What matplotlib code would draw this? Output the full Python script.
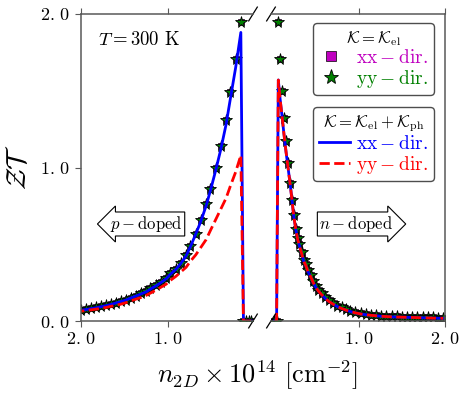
import numpy as np
import matplotlib
matplotlib.use("Agg")
import matplotlib.pyplot as plt
from matplotlib.lines import Line2D

plt.rcParams["mathtext.fontset"] = "cm"
plt.rcParams["font.family"] = "serif"
plt.rcParams["font.serif"] = ["cmr10", "DejaVu Serif"]
plt.rcParams["axes.unicode_minus"] = False
plt.rcParams["axes.formatter.use_mathtext"] = True

# p-doped side (carrier density in 1e14 cm^-2)
p_n = [0.04, 0.07, 0.10, 0.13, 0.16, 0.22, 0.28, 0.33, 0.39, 0.45, 0.51, 0.56, 0.62,
       0.68, 0.74, 0.79, 0.85, 0.91, 0.97, 1.02, 1.08, 1.14, 1.20, 1.25, 1.31, 1.37,
       1.43, 1.48, 1.54, 1.60, 1.66, 1.71, 1.77, 1.83, 1.89, 1.94, 2.00]
p_el_xx = [0, 0, 0, 0, 1.95, 1.71, 1.49, 1.31, 1.14, 1.00, 0.86, 0.76, 0.66,
           0.57, 0.49, 0.43, 0.38, 0.34, 0.31, 0.28, 0.255, 0.232, 0.212, 0.195, 0.18, 0.165,
           0.152, 0.14, 0.13, 0.12, 0.11, 0.102, 0.095, 0.088, 0.082, 0.077, 0.072]
p_el_yy = list(p_el_xx)
p_tot_xx = [0, 0, 0, 0, 1.88, 1.65, 1.45, 1.28, 1.12, 0.98, 0.85, 0.75, 0.65,
            0.565, 0.485, 0.425, 0.375, 0.335, 0.305, 0.275, 0.25, 0.228, 0.208, 0.19, 0.176, 0.162,
            0.149, 0.137, 0.127, 0.117, 0.107, 0.1, 0.093, 0.086, 0.08, 0.075, 0.07]
p_tot_yy = [0, 0, 0, 0, 1.08, 0.97, 0.88, 0.80, 0.73, 0.66, 0.59, 0.53, 0.48,
            0.43, 0.39, 0.35, 0.32, 0.29, 0.265, 0.24, 0.22, 0.20, 0.182, 0.167, 0.153, 0.142,
            0.13, 0.12, 0.11, 0.102, 0.095, 0.088, 0.082, 0.077, 0.072, 0.068, 0.064]

# n-doped side
n_n = [0.02, 0.045, 0.065, 0.085, 0.105, 0.13, 0.155, 0.18, 0.205, 0.225,
       0.245, 0.27, 0.29, 0.31, 0.335, 0.36, 0.385, 0.41, 0.44, 0.47,
       0.50, 0.53, 0.57, 0.61, 0.65, 0.70, 0.75, 0.80, 0.85, 0.90,
       0.96, 1.02, 1.08, 1.14, 1.20, 1.26, 1.32, 1.38, 1.44, 1.50,
       1.56, 1.62, 1.68, 1.74, 1.80, 1.86, 1.92, 1.98]
n_el_xx = [0, 0, 1.95, 1.71, 1.50, 1.32, 1.17, 1.03, 0.90, 0.79,
           0.69, 0.60, 0.54, 0.50, 0.45, 0.40, 0.37, 0.33, 0.30, 0.26,
           0.23, 0.20, 0.18, 0.155, 0.135, 0.12, 0.10, 0.088, 0.077, 0.068,
           0.058, 0.05, 0.045, 0.041, 0.038, 0.035, 0.033, 0.031, 0.03, 0.029,
           0.028, 0.027, 0.026, 0.025, 0.024, 0.023, 0.022, 0.022]
n_el_yy = list(n_el_xx)
n_tot_xx = [0, 0, 1.57, 1.45, 1.35, 1.22, 1.10, 0.99, 0.88, 0.78,
            0.68, 0.59, 0.53, 0.49, 0.44, 0.39, 0.36, 0.32, 0.29, 0.25,
            0.22, 0.195, 0.17, 0.148, 0.128, 0.11, 0.094, 0.082, 0.071, 0.062,
            0.053, 0.046, 0.041, 0.037, 0.034, 0.031, 0.029, 0.027, 0.026, 0.025,
            0.024, 0.023, 0.022, 0.021, 0.02, 0.019, 0.018, 0.018]
n_tot_yy = list(n_tot_xx)

fig = plt.figure(figsize=(4.63, 3.97), dpi=100)
axL = fig.add_axes([81/463, 1-321/397, 172/463, 307/397])
axR = fig.add_axes([271/463, 1-321/397, 174/463, 307/397])

spc = "0.35"
for ax, xs, ex, ey, tx, ty in [(axL, p_n, p_el_xx, p_el_yy, p_tot_xx, p_tot_yy),
                               (axR, n_n, n_el_xx, n_el_yy, n_tot_xx, n_tot_yy)]:
    ax.plot(xs, ex, ls="none", marker="s", ms=5, mfc="m", mec="k", mew=0.5)
    ax.plot(xs, ey, ls="none", marker="*", ms=8.5, mfc="g", mec="k", mew=0.6)
    ax.plot(xs, tx, "b-", lw=2)
    ax.plot(xs, ty, "r--", lw=2)
    ax.set_ylim(0, 2.0)
    for s in ax.spines.values():
        s.set_color(spc)
        s.set_linewidth(1.1)
    ax.tick_params(direction="out", length=4, color=spc, labelsize=13, top=True)

axL.set_xlim(2.0, 0.02)
axR.set_xlim(-0.02, 2.0)
axL.spines["right"].set_visible(False)
axR.spines["left"].set_visible(False)
axL.set_xticks([2.0, 1.0])
axL.set_xticklabels([r"$2.\,0$", r"$1.\,0$"])
axR.set_xticks([1.0, 2.0])
axR.set_xticklabels([r"$1.\,0$", r"$2.\,0$"])
axL.set_yticks([0.0, 1.0, 2.0])
axL.set_yticklabels([r"$0.\,0$", r"$1.\,0$", r"$2.\,0$"])
axR.set_yticks([])
axL.set_ylabel(r"$\mathcal{ZT}$", fontsize=20, labelpad=6)

# break marks
d = 0.025
kw = dict(color="k", lw=0.9, clip_on=False)
for y in (0, 1):
    axL.plot([1 - d, 1 + d], [y - d * 0.9, y + d * 0.9], transform=axL.transAxes, **kw)
    axR.plot([-d, d], [y - d * 0.9, y + d * 0.9], transform=axR.transAxes, **kw)

axL.text(0.1, 0.915, r"$T = 300$ K", transform=axL.transAxes, fontsize=13.5, va="center")

axL.text(0.38, 0.316, r"$p-$doped", transform=axL.transAxes, fontsize=12,
         ha="center", va="center",
         bbox=dict(boxstyle="larrow,pad=0.12", fc="w", ec="k", lw=0.8))
axR.text(0.49, 0.316, r"$n-$doped", transform=axR.transAxes, fontsize=12,
         ha="center", va="center",
         bbox=dict(boxstyle="rarrow,pad=0.12", fc="w", ec="k", lw=0.8))

h1 = [Line2D([], [], ls="none", marker="s", ms=7, mfc="m", mec="k", mew=0.5),
      Line2D([], [], ls="none", marker="*", ms=11, mfc="g", mec="k", mew=0.6)]
leg1 = axR.legend(h1, [r"$\rm xx-dir.$", r"$\rm yy-dir.$"],
                  title=r"$\mathcal{K}=\mathcal{K}_{\rm el}$", loc="upper right",
                  bbox_to_anchor=(0.935, 0.971), borderaxespad=0, fontsize=14,
                  title_fontsize=12, handlelength=1.2, handletextpad=0.7, borderpad=0.3,
                  labelspacing=0.05, fancybox=True, edgecolor="0.3", framealpha=1)
for t, c in zip(leg1.get_texts(), ["m", "g"]):
    t.set_color(c)
axR.add_artist(leg1)

h2 = [Line2D([], [], color="b", lw=2), Line2D([], [], color="r", ls="--", lw=2)]
leg2 = axR.legend(h2, [r"$\rm xx-dir.$", r"$\rm yy-dir.$"],
                  title=r"$\mathcal{K}=\mathcal{K}_{\rm el}+\mathcal{K}_{\rm ph}$",
                  loc="upper right", bbox_to_anchor=(0.935, 0.697), borderaxespad=0,
                  fontsize=14, title_fontsize=12, handlelength=1.6, handletextpad=0.3,
                  borderpad=0.3, labelspacing=0.05, fancybox=True, edgecolor="0.3",
                  framealpha=1)
for t, c in zip(leg2.get_texts(), ["b", "r"]):
    t.set_color(c)

fig.text(257/463, 1-375/397, r"$n_{2D}\times10^{14}\ [\mathrm{cm}^{-2}]$",
         fontsize=19, ha="center", va="center")

fig.savefig("out.png", dpi=100)
